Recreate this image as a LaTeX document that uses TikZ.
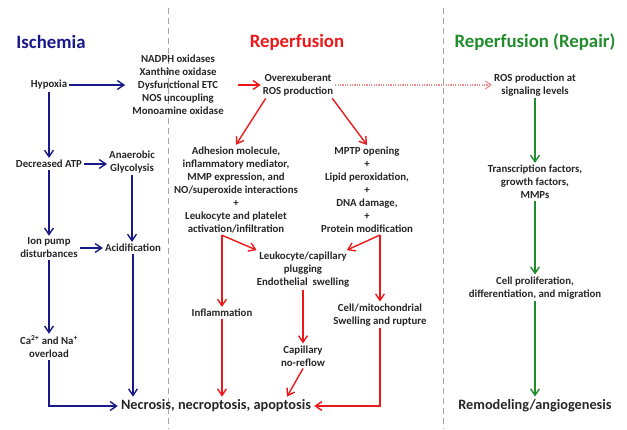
\documentclass[tikz,border=0pt]{standalone}
\usepackage{fontspec}
\setmainfont{Carlito}
\usepackage{tikz}
\usetikzlibrary{positioning,arrows.meta}
\definecolor{ischblue}{RGB}{25,25,135}
\definecolor{repred}{RGB}{235,25,25}
\definecolor{repgreen}{RGB}{35,140,45}
\definecolor{dotpink}{RGB}{240,140,140}

\begin{document}
\begin{tikzpicture}[
x=1pt, y=-1pt,
txt/.style={align=center, font=\bfseries\fontsize{10.8}{13}\selectfont, inner sep=2pt, text=black!85},
title/.style={font=\bfseries\fontsize{18.8}{21}\selectfont, inner sep=0pt},
final/.style={font=\bfseries\fontsize{14.3}{16}\selectfont, inner sep=3pt, text=black!85},
arr/.style={-{Straight Barb[length=2.3mm, width=3.1mm]}, line width=1.4pt},
bluearr/.style={arr, ischblue},
redarr/.style={arr, repred},
greenarr/.style={arr, repgreen},
dotarr/.style={-{Straight Barb[length=2mm, width=2.8mm]}, dotpink, line width=1.1pt, dash pattern=on 1.2pt off 1.2pt},
divider/.style={gray!70, line width=1pt, dash pattern=on 6pt off 4pt}
]
\useasboundingbox (0,0) rectangle (627,429);

\draw[divider] (168,8) -- (168,429);
\draw[divider] (443,8) -- (443,429);

\node[title, ischblue] (tisch) at (51,42) {Ischemia};
\node[title, repred] (trep) at (297,42) {Reperfusion};
\node[title, repgreen] (trepair) at (535,42) {Reperfusion (Repair)};

\node[txt] (hyp) at (49,85) {Hypoxia};
\node[txt] (enz) at (178,85) {NADPH oxidases\\Xanthine oxidase\\Dysfunctional ETC\\NOS uncoupling\\Monoamine oxidase};
\node[txt] (ros) at (298,85) {Overexuberant\\ROS production};
\node[txt] (sig) at (535,85) {ROS production at\\signaling levels};
\node[txt] (atp) at (49,164) {Decreased ATP};
\node[txt] (gly) at (132,162) {Anaerobic\\Glycolysis};
\node[txt] (adh) at (236,190) {Adhesion molecule,\\inflammatory mediator,\\MMP expression, and\\NO/superoxide interactions\\+\\Leukocyte and platelet\\activation/infiltration};
\node[txt] (mptp) at (367,190) {MPTP opening\\+\\Lipid peroxidation,\\+\\DNA damage,\\+\\Protein modification};
\node[txt] (tf) at (535,182) {Transcription factors,\\growth factors,\\MMPs};
\node[txt] (ion) at (49,248) {Ion pump\\disturbances};
\node[txt] (acid) at (133,248) {Acidification};
\node[txt] (plug) at (303,270) {Leukocyte/capillary\\plugging\\Endothelial\ \ swelling};
\node[txt] (infl) at (222,313) {Inflammation};
\node[txt] (cell) at (380,315) {Cell/mitochondrial\\Swelling and rupture};
\node[txt] (prol) at (535,288) {Cell proliferation,\\differentiation, and migration};
\node[txt] (ca) at (49,347) {Ca\textsuperscript{2+} and Na\textsuperscript{+}\\overload};
\node[txt] (nore) at (303,356) {Capillary\\no-reflow};
\node[final] (nec) at (216,406) {Necrosis, necroptosis, apoptosis};
\node[final] (rem) at (535,406) {Remodeling/angiogenesis};

\coordinate (adhsplit) at (infl |- adh.south);
\coordinate (mptpsplit) at (cell |- mptp.south);

\draw[bluearr, shorten >=5pt] (hyp) -- (hyp -| enz.west);
\draw[bluearr] (hyp) -- (atp);
\draw[bluearr] (atp) -- (atp -| gly.west);
\draw[bluearr] (atp) -- (ion);
\draw[bluearr] (gly) -- (gly |- acid.north);
\draw[bluearr] (ion) -- (ion -| acid.west);
\draw[bluearr] (ion) -- (ca);
\draw[bluearr] (acid) -- (acid |- nec.north);
\draw[bluearr] (ca.south) |- (nec.west);

\draw[redarr, shorten <=12pt] (enz.east |- ros) -- (ros.west);
\draw[redarr] ([xshift=5pt]ros.south west) -- (adh.north);
\draw[redarr] ([xshift=-3pt]ros.south east) -- (mptp.north);
\draw[dotarr] (ros.east) -- (sig.west);
\draw[redarr] (adhsplit) -- (plug);
\draw[redarr] (adhsplit) -- (infl);
\draw[redarr] (mptpsplit) -- (plug);
\draw[redarr] (mptpsplit) -- (cell);
\draw[redarr] (infl) -- (infl |- nec.north);
\draw[redarr] (plug) -- (nore);
\draw[redarr] (nore.south) -- ([xshift=71pt]nec.north);
\draw[redarr] (cell.south) |- (nec.east);

\draw[greenarr] (sig) -- (tf);
\draw[greenarr] (tf) -- (prol);
\draw[greenarr] (prol) -- (rem);
\end{tikzpicture}
\end{document}
